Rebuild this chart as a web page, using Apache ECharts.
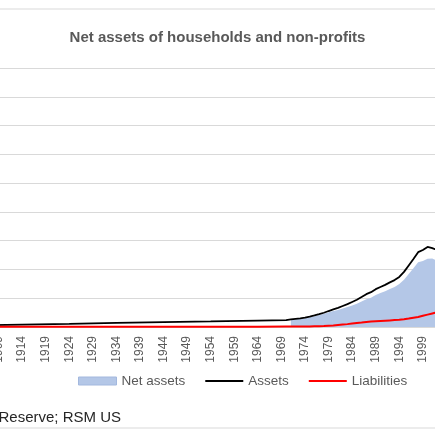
<!DOCTYPE html>
<html>
<head>
<meta charset="utf-8">
<script src="https://cdn.jsdelivr.net/npm/echarts@6/dist/echarts.min.js"></script>
<style>
  html, body { margin: 0; padding: 0; background: #fff; overflow: hidden; }
  /* the picture is a crop of a wider chart: draw wider and shift left */
  #main { width: 495px; height: 435px; margin-left: -30px; }
</style>
</head>
<body>
<div id="main"></div>
<script>
// years on the category axis
var firstYear = 1904, lastYear = 2002;
var years = [];
for (var y = firstYear; y <= lastYear; y++) years.push(String(y));

// [year, value]
var assets = [
    [1904, 1.1], [1914, 1.7], [1924, 2.2], [1934, 2.8], [1944, 3.4], [1954, 3.9], [1964, 4.5], [1970, 4.8],
    [1971, 5.3], [1972, 5.7], [1973, 6.0], [1974, 6.5], [1975, 7.2], [1976, 8.0], [1977, 8.9], [1978, 9.9],
    [1979, 11.1], [1980, 12.2], [1981, 13.3], [1982, 14.6], [1983, 15.9], [1984, 17.4], [1985, 18.9],
    [1986, 20.8], [1987, 22.8], [1988, 24.2], [1989, 26.3], [1990, 27.8], [1991, 29.3], [1992, 31.0],
    [1993, 32.6], [1994, 34.8], [1995, 38.3], [1996, 42.8], [1997, 47.3], [1998, 52.0], [1999, 53.5],
    [2000, 55.6], [2001, 54.8], [2002, 53.5]
];
var liabilities = [
    [1904, 0.1], [1934, 0.2], [1964, 0.2], [1970, 0.3],
    [1971, 0.3], [1972, 0.3], [1973, 0.4], [1974, 0.4], [1975, 0.4], [1976, 0.5], [1977, 0.6], [1978, 0.7],
    [1979, 0.9], [1980, 1.1], [1981, 1.4], [1982, 1.7], [1983, 2.0], [1984, 2.4], [1985, 2.8], [1986, 3.1],
    [1987, 3.5], [1988, 3.8], [1989, 4.0], [1990, 4.2], [1991, 4.4], [1992, 4.6], [1993, 4.8], [1994, 5.0],
    [1995, 5.4], [1996, 5.9], [1997, 6.5], [1998, 7.0], [1999, 7.8], [2000, 8.6], [2001, 9.4], [2002, 10.2]
];
var netAssets = [
    [1971, 4.8], [1972, 5.3], [1973, 5.6], [1974, 6.1], [1975, 6.8], [1976, 7.5], [1977, 8.3], [1978, 9.2],
    [1979, 10.2], [1980, 11.1], [1981, 11.9], [1982, 12.9], [1983, 13.9], [1984, 15.0], [1985, 16.1],
    [1986, 17.7], [1987, 19.3], [1988, 20.4], [1989, 22.3], [1990, 23.6], [1991, 24.9], [1992, 26.4],
    [1993, 27.8], [1994, 29.8], [1995, 32.9], [1996, 36.9], [1997, 40.8], [1998, 45.0], [1999, 45.9],
    [2000, 47.5], [2001, 47.6], [2002, 46.0]
];

function toCat(list) {
    return list.map(function (p) { return [String(p[0]), p[1]]; });
}

var font = 'Liberation Sans, Arial, sans-serif';
var offsetX = 30; // div starts 30px left of the window
var chart = echarts.init(document.getElementById('main'));
var noSymbol = { color: 'rgba(0,0,0,0)', borderColor: 'rgba(0,0,0,0)', borderWidth: 0 };

var option = {
    backgroundColor: '#fff',
    animation: false,
    title: {
        text: 'Net assets of households and non-profits',
        left: 'center',
        top: 25,
        textStyle: { fontFamily: font, fontSize: 15, fontWeight: 'bold', color: '#595959' }
    },
    legend: {
        left: 73 + offsetX,
        top: 369,
        itemWidth: 38,
        itemHeight: 8,
        itemGap: 19,
        textStyle: { fontFamily: font, fontSize: 13.5, color: '#595959' },
        data: [
            { name: 'Net assets', icon: 'rect', itemStyle: { color: '#b4c7e7', borderColor: '#a3b8de', borderWidth: 1 } },
            { name: 'Assets', itemStyle: noSymbol },
            { name: 'Liabilities', itemStyle: noSymbol }
        ]
    },
    grid: { left: 5, right: 28, top: 68, bottom: 108, outerBoundsMode: 'none' },
    xAxis: {
        type: 'category',
        data: years,
        boundaryGap: false,
        axisLine: { lineStyle: { color: '#d9d9d9', width: 1 } },
        axisTick: { show: false },
        axisLabel: {
            interval: 4,
            rotate: 90,
            margin: 9,
            fontFamily: font,
            fontSize: 12,
            color: '#595959'
        },
        splitLine: { show: false }
    },
    yAxis: {
        type: 'value',
        min: 0,
        max: 180,
        interval: 20,
        axisLabel: { show: false },
        axisLine: { show: false },
        axisTick: { show: false },
        splitLine: { lineStyle: { color: '#d9d9d9', width: 1 } }
    },
    graphic: [
        { type: 'line', shape: { x1: 0, y1: 9, x2: 495, y2: 9 }, style: { stroke: '#d9d9d9', lineWidth: 1 } },
        { type: 'line', shape: { x1: 0, y1: 428, x2: 495, y2: 428 }, style: { stroke: '#d9d9d9', lineWidth: 1 } },
        {
            type: 'text',
            right: 495 - 121 - offsetX,
            top: 410,
            style: { text: 'Source: Federal Reserve; RSM US', font: '15px ' + font, fill: '#262626' }
        }
    ],
    series: [
        {
            name: 'Net assets',
            type: 'line',
            data: toCat(netAssets),
            symbol: 'none',
            lineStyle: { width: 0 },
            itemStyle: { color: '#b4c7e7' },
            areaStyle: { color: '#b4c7e7', opacity: 1 },
            z: 1
        },
        {
            name: 'Assets',
            type: 'line',
            data: toCat(assets),
            symbol: 'none',
            lineStyle: { color: '#000', width: 1.8 },
            itemStyle: { color: '#000' },
            z: 3
        },
        {
            name: 'Liabilities',
            type: 'line',
            data: toCat(liabilities),
            symbol: 'none',
            lineStyle: { color: '#ff0000', width: 2 },
            itemStyle: { color: '#ff0000' },
            z: 4
        }
    ]
};

chart.setOption(option);
</script>
</body>
</html>
